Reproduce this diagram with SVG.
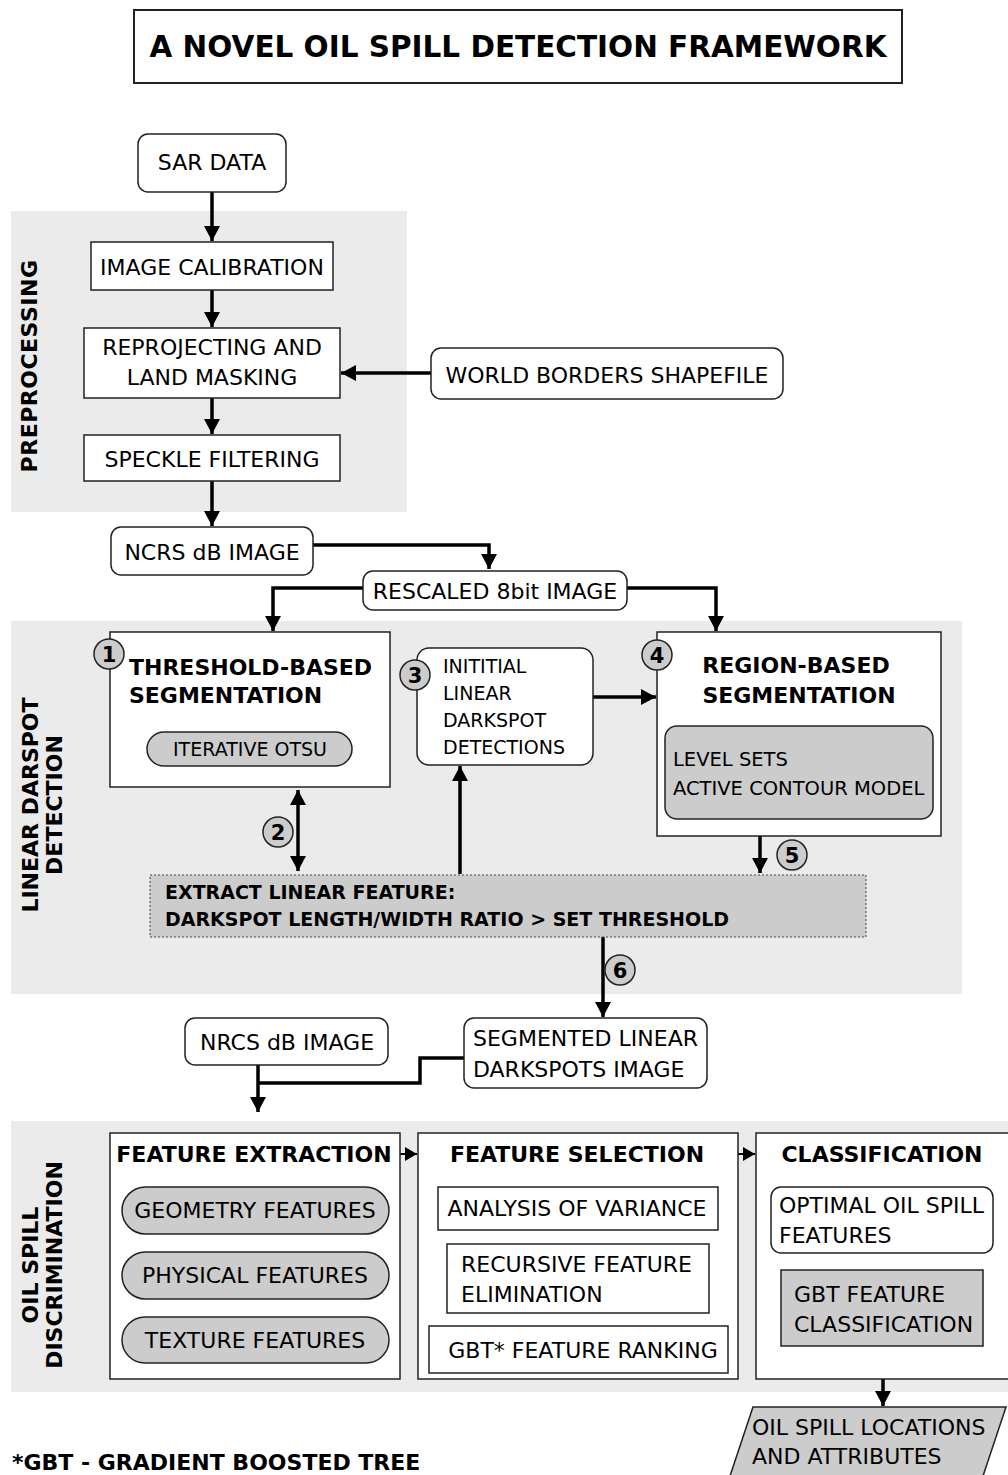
<svg xmlns="http://www.w3.org/2000/svg" width="1008" height="1475" viewBox="0 0 1008 1475">
<defs>
<style>
text{font-family:"DejaVu Sans","Liberation Sans",sans-serif;fill:#000}
.t{font-size:22px}
.tc{font-size:22px;text-anchor:middle}
.b{font-size:22px;font-weight:bold}
.bc{font-size:22px;font-weight:bold;text-anchor:middle}
.box{fill:#fff;stroke:#222;stroke-width:1.5}
.gbox{fill:#cccccc;stroke:#222;stroke-width:1.5}
.band{fill:#ebebeb;stroke:none}
.num{fill:#cccccc;stroke:#222;stroke-width:1.5}
.numt{font-size:21px;font-weight:bold;text-anchor:middle}
.lbl{font-size:22px;font-weight:bold;text-anchor:middle}
.c{fill:none;stroke:#000;stroke-width:3.5}
.cs{fill:none;stroke:#000;stroke-width:2}
</style>
<marker id="ah" markerUnits="userSpaceOnUse" markerWidth="16" markerHeight="16" viewBox="0 0 16 16" refX="15" refY="8" orient="auto">
<path d="M0,0 L15,8 L0,16 Z" fill="#000"/>
</marker>
<marker id="ahs" markerUnits="userSpaceOnUse" markerWidth="14" markerHeight="14" viewBox="0 0 14 14" refX="12" refY="7" orient="auto">
<path d="M0,0 L12,7 L0,14 Z" fill="#000"/>
</marker>
<marker id="ahr" markerUnits="userSpaceOnUse" markerWidth="16" markerHeight="16" viewBox="0 0 16 16" refX="0" refY="8" orient="auto">
<path d="M15,0 L0,8 L15,16 Z" fill="#000"/>
</marker>
</defs>
<rect width="1008" height="1475" fill="#fff"/>

<g id="bands">
<rect class="band" x="11" y="211" width="396" height="301"/>
<rect class="band" x="11" y="621" width="951" height="373"/>
<rect class="band" x="11" y="1121" width="997" height="271"/>
<text class="lbl" transform="translate(37,366) rotate(-90)" letter-spacing="0.5">PREPROCESSING</text>
<text class="lbl" transform="translate(38,805) rotate(-90)">LINEAR DARSPOT</text>
<text class="lbl" transform="translate(62,805) rotate(-90)">DETECTION</text>
<text class="lbl" transform="translate(38,1265) rotate(-90)">OIL SPILL</text>
<text class="lbl" transform="translate(62,1265) rotate(-90)">DISCRIMINATION</text>
</g>

<g id="title">
<rect x="134" y="10" width="768" height="73" fill="#fff" stroke="#222" stroke-width="2"/>
<text x="518" y="57" font-size="29.5" font-weight="bold" text-anchor="middle">A NOVEL OIL SPILL DETECTION FRAMEWORK</text>
</g>

<g id="connectors">
<line class="c" x1="212" y1="192" x2="212" y2="241" marker-end="url(#ah)"/>
<line class="c" x1="212" y1="290" x2="212" y2="327" marker-end="url(#ah)"/>
<line class="c" x1="431" y1="373" x2="341" y2="373" marker-end="url(#ah)"/>
<line class="c" x1="212" y1="398" x2="212" y2="434" marker-end="url(#ah)"/>
<line class="c" x1="212" y1="481" x2="212" y2="526" marker-end="url(#ah)"/>
<polyline class="c" points="313,545 489,545 489,569" marker-end="url(#ah)"/>
<polyline class="c" points="363,588 273,588 273,631" marker-end="url(#ah)"/>
<polyline class="c" points="627,588 716,588 716,631" marker-end="url(#ah)"/>
<line class="c" x1="298" y1="790" x2="298" y2="871" marker-start="url(#ahr)" marker-end="url(#ah)"/>
<line class="c" x1="460" y1="874" x2="460" y2="766" marker-end="url(#ah)"/>
<line class="c" x1="593" y1="697" x2="656" y2="697" marker-end="url(#ah)"/>
<line class="c" x1="760" y1="836" x2="760" y2="873" marker-end="url(#ah)"/>
<line class="c" x1="603" y1="937" x2="603" y2="1017" marker-end="url(#ah)"/>
<polyline class="c" points="464,1058 420,1058 420,1083 258,1083"/>
<line class="c" x1="258" y1="1065" x2="258" y2="1112" marker-end="url(#ah)"/>
<line class="cs" x1="400" y1="1154" x2="417" y2="1154" marker-end="url(#ahs)"/>
<line class="cs" x1="738" y1="1154" x2="755" y2="1154" marker-end="url(#ahs)"/>
<line class="c" x1="883" y1="1379" x2="883" y2="1406" marker-end="url(#ah)"/>
</g>

<g id="sar-data">
<rect class="box" x="138" y="134" width="148" height="58" rx="10"/>
<text class="tc" x="212" y="170">SAR DATA</text>
</g>
<g id="image-calibration">
<rect class="box" x="91" y="242" width="242" height="48"/>
<text class="tc" x="212" y="275">IMAGE CALIBRATION</text>
</g>
<g id="reprojecting">
<rect class="box" x="84" y="328" width="256" height="70"/>
<text class="tc" x="212" y="355">REPROJECTING AND</text>
<text class="tc" x="212" y="385">LAND MASKING</text>
</g>
<g id="world-borders">
<rect class="box" x="431" y="348" width="352" height="51" rx="10"/>
<text class="tc" x="607" y="383">WORLD BORDERS SHAPEFILE</text>
</g>
<g id="speckle">
<rect class="box" x="84" y="435" width="256" height="46"/>
<text class="tc" x="212" y="467">SPECKLE FILTERING</text>
</g>
<g id="ncrs">
<rect class="box" x="111" y="527" width="202" height="48" rx="10"/>
<text class="tc" x="212" y="560">NCRS dB IMAGE</text>
</g>
<g id="rescaled">
<rect class="box" x="363" y="571" width="264" height="39" rx="10"/>
<text class="tc" x="495" y="599">RESCALED 8bit IMAGE</text>
</g>

<g id="threshold">
<rect class="box" x="110" y="632" width="280" height="155"/>
<text class="b" x="129" y="675">THRESHOLD-BASED</text>
<text class="b" x="129" y="703">SEGMENTATION</text>
<rect class="gbox" x="147" y="732" width="205" height="34" rx="17"/>
<text x="250" y="756" font-size="19" text-anchor="middle">ITERATIVE OTSU</text>
<circle class="num" cx="109" cy="654" r="15"/>
<text class="numt" x="109" y="662">1</text>
</g>

<g id="initial-detections">
<rect class="box" x="417" y="648" width="176" height="117" rx="12"/>
<text x="443" y="673" font-size="19">INITITIAL</text>
<text x="443" y="700" font-size="19">LINEAR</text>
<text x="443" y="727" font-size="19">DARKSPOT</text>
<text x="443" y="754" font-size="19">DETECTIONS</text>
<circle class="num" cx="415" cy="675" r="15"/>
<text class="numt" x="415" y="683">3</text>
</g>

<g id="region">
<rect class="box" x="657" y="632" width="284" height="204"/>
<text class="bc" x="796" y="673">REGION-BASED</text>
<text class="bc" x="799" y="703">SEGMENTATION</text>
<rect class="gbox" x="665" y="726" width="268" height="93" rx="12"/>
<text x="673" y="766" font-size="19.5">LEVEL SETS</text>
<text x="673" y="795" font-size="19.5">ACTIVE CONTOUR MODEL</text>
<circle class="num" cx="657" cy="655" r="15"/>
<text class="numt" x="657" y="663">4</text>
</g>

<g id="step2"><circle class="num" cx="278" cy="832" r="15"/><text class="numt" x="278" y="840">2</text></g>
<g id="step5"><circle class="num" cx="792" cy="855" r="15"/><text class="numt" x="792" y="863">5</text></g>
<g id="step6"><circle class="num" cx="620" cy="970" r="15"/><text class="numt" x="620" y="978">6</text></g>

<g id="extract">
<rect x="150" y="875" width="716" height="62" fill="#cccccc" stroke="#444" stroke-width="1" stroke-dasharray="2,2"/>
<text x="165" y="899" font-size="19" font-weight="bold">EXTRACT LINEAR FEATURE:</text>
<text x="165" y="926" font-size="19" font-weight="bold">DARKSPOT LENGTH/WIDTH RATIO &gt; SET THRESHOLD</text>
</g>

<g id="nrcs">
<rect class="box" x="185" y="1018" width="203" height="47" rx="10"/>
<text class="tc" x="287" y="1050">NRCS dB IMAGE</text>
</g>
<g id="segmented">
<rect class="box" x="464" y="1018" width="243" height="70" rx="10"/>
<text class="t" x="473" y="1046">SEGMENTED LINEAR</text>
<text class="t" x="473" y="1077">DARKSPOTS IMAGE</text>
</g>

<g id="feature-extraction">
<rect class="box" x="110" y="1133" width="290" height="246"/>
<text class="bc" x="254" y="1162">FEATURE EXTRACTION</text>
<rect class="gbox" x="122" y="1187" width="267" height="47" rx="23.5"/>
<text class="tc" x="255" y="1218">GEOMETRY FEATURES</text>
<rect class="gbox" x="122" y="1252" width="267" height="47" rx="23.5"/>
<text class="tc" x="255" y="1283">PHYSICAL FEATURES</text>
<rect class="gbox" x="122" y="1317" width="267" height="46" rx="23"/>
<text class="tc" x="255" y="1348">TEXTURE FEATURES</text>
</g>

<g id="feature-selection">
<rect class="box" x="418" y="1133" width="320" height="246"/>
<text class="bc" x="577" y="1162">FEATURE SELECTION</text>
<rect class="box" x="438" y="1187" width="280" height="43"/>
<text class="tc" x="577" y="1216">ANALYSIS OF VARIANCE</text>
<rect class="box" x="447" y="1244" width="262" height="69"/>
<text class="t" x="461" y="1272">RECURSIVE FEATURE</text>
<text class="t" x="461" y="1302">ELIMINATION</text>
<rect class="box" x="429" y="1326" width="299" height="47"/>
<text class="tc" x="583" y="1358">GBT* FEATURE RANKING</text>
</g>

<g id="classification">
<rect class="box" x="756" y="1133" width="260" height="246"/>
<text class="bc" x="882" y="1162">CLASSIFICATION</text>
<rect class="box" x="771" y="1187" width="222" height="66" rx="10"/>
<text class="t" x="779" y="1213">OPTIMAL OIL SPILL</text>
<text class="t" x="779" y="1243">FEATURES</text>
<rect class="gbox" x="781" y="1270" width="202" height="76"/>
<text class="t" x="794" y="1302">GBT FEATURE</text>
<text class="t" x="794" y="1332">CLASSIFICATION</text>
</g>

<g id="output">
<polygon points="753,1407 1006,1407 980,1485 727,1485" fill="#cccccc" stroke="#222" stroke-width="1.5"/>
<text class="t" x="752" y="1435">OIL SPILL LOCATIONS</text>
<text class="t" x="752" y="1464">AND ATTRIBUTES</text>
</g>

<g id="footnote">
<text class="b" x="12" y="1470">*GBT - GRADIENT BOOSTED TREE</text>
</g>
</svg>
